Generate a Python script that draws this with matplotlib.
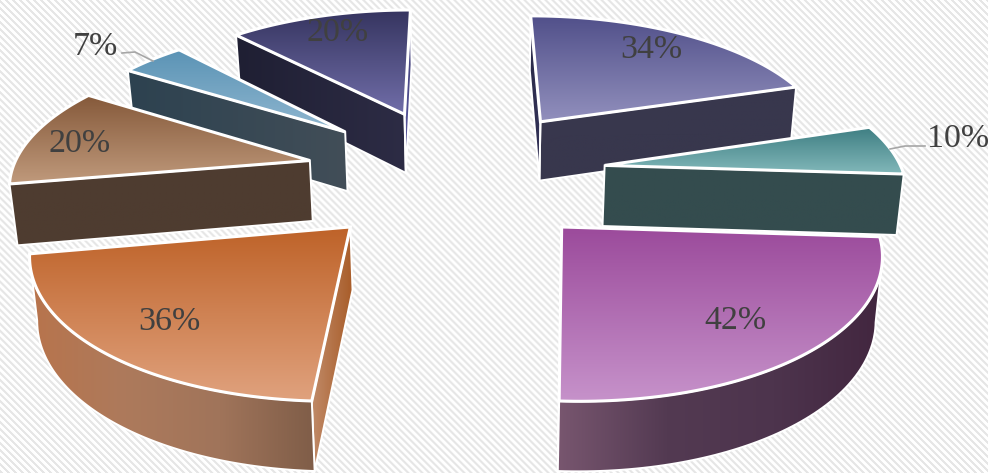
import numpy as np
import matplotlib
matplotlib.use('Agg')
import matplotlib.pyplot as plt
from matplotlib.patches import Polygon
from matplotlib.colors import LinearSegmentedColormap

# slices clockwise from 12 o'clock
labels = ['34%', '10%', '42%', '36%', '20%', '7%', '20%']
values = [34, 10, 42, 36, 20, 7, 20]

# top face gradient (top of slice -> bottom of slice)
top_colors = [('#51508a', '#9290bd'), ('#3e7e82', '#82b8ba'), ('#9b4a9b', '#c692ca'),
              ('#be6228', '#e0a27e'), ('#85593a', '#c09a7c'), ('#5a93b5', '#90b7d0'),
              ('#35345f', '#716ea9')]
# side gradients (left -> right)
arc_colors = [('#38374d', '#38374d'), ('#344c4e', '#344c4e'), ('#78566f', '#533a52', '#4d344d', '#42263f'),
              ('#b8744c', '#ad7a5c', '#a0745a', '#7f5d48'), ('#4e3c30', '#4e3c30'), ('#2d4250', '#424e58'),
              ('#2a2a48', '#2d2c45')]
cut_start_colors = [('#2a2a48', '#34335a'), ('#344c4e', '#344c4e'), ('#78566f', '#78566f'),
                    ('#c08a68', '#a85c28'), ('#4e3c30', '#4e3c30'), ('#2d4250', '#424e58'),
                    ('#1f1f33', '#2d2c45')]
cut_end_colors = [('#38374d', '#38374d'), ('#344c4e', '#344c4e'), ('#3f2340', '#3f2340'),
                  ('#b8744c', '#b8744c'), ('#4e3c30', '#4e3c30'), ('#2d4250', '#424e58'),
                  ('#5a58a0', '#3c3a70')]

label_xy = [(651, 50), (958, 139), (735, 321), (169, 322), (80, 144), (95, 47), (338, 33)]

# layout of the projected pie, in pixels
cx, cy = 456, 173.5
rx, ry = 151, 67.7
radius = 1.975
persp = 0.07

fig = plt.figure(figsize=(9.88, 4.73), dpi=100)
ax = fig.add_axes([0, 0, 1, 1])
ax.set_xlim(0, 988)
ax.set_ylim(473, 0)
ax.axis('off')

# striped background
yy, xx = np.mgrid[0:473, 0:988]
stripes = ((xx - yy) % 7 < 3.5).astype(float)
bg = LinearSegmentedColormap.from_list('bg', ['#e6e6e6', '#ffffff'])
ax.imshow(stripes, cmap=bg, extent=(0, 988, 473, 0), aspect='auto', zorder=0, interpolation='bilinear')


def project(u, v):
    w = 1 - persp * v
    return cx + rx * u / w, cy + ry * v / w


def drop(x, y):
    # bottom edge of the slice for a point on the top face
    return x - 0.017 * (x - 480), y + 54 + 0.04 * y


def paint(pts, colors, vertical, z, lw=1.4):
    pts = np.array(pts)
    cmap = LinearSegmentedColormap.from_list('g', list(colors))
    x0, x1 = pts[:, 0].min(), pts[:, 0].max()
    y0, y1 = pts[:, 1].min(), pts[:, 1].max()
    grad = np.linspace(0, 1, 256)
    grad = grad[:, None] if vertical else grad[None, :]
    im = ax.imshow(grad, cmap=cmap, extent=(x0, x1, y1, y0), origin='upper', aspect='auto', zorder=z)
    poly = Polygon(pts, closed=True, fc='none', ec='white', lw=lw, zorder=z + 0.01, joinstyle='miter')
    ax.add_patch(poly)
    im.set_clip_path(poly)


def cross(a, b):
    return a[0] * b[1] - a[1] * b[0]


angles = np.cumsum([0] + values) / sum(values) * 2 * np.pi
mids = (angles[:-1] + angles[1:]) / 2
order = np.argsort(-np.cos(mids))  # back slices first

for n, i in enumerate(order):
    z = 2 + n
    a0, a1, m = angles[i], angles[i + 1], mids[i]
    ex, ey = np.sin(m), -np.cos(m)
    th = np.linspace(a0, a1, 80)
    x, y = project(radius * np.sin(th) + ex, -radius * np.cos(th) + ey)
    tip_x, tip_y = project(ex, ey)
    bx, by = drop(x, y)
    btx, bty = drop(tip_x, tip_y)
    down = (btx - tip_x, bty - tip_y)

    # a cut face shows when the slice lies on the other side of it from the drop
    d0 = (x[0] - tip_x, y[0] - tip_y)
    d1 = (x[-1] - tip_x, y[-1] - tip_y)
    if cross(d0, down) * cross(d0, d1) < 0:
        paint([(tip_x, tip_y), (x[0], y[0]), (bx[0], by[0]), (btx, bty)],
              cut_start_colors[i], False, z)
    if cross(d1, down) * cross(d1, d0) < 0:
        paint([(tip_x, tip_y), (x[-1], y[-1]), (bx[-1], by[-1]), (btx, bty)],
              cut_end_colors[i], False, z)

    # outer rim, front part only
    front = np.diff(x) < 0
    if front.any():
        idx = np.where(front)[0]
        s, e = idx[0], idx[-1] + 2
        rim = list(zip(x[s:e], y[s:e])) + list(zip(bx[s:e][::-1], by[s:e][::-1]))
        paint(rim, arc_colors[i], False, z + 0.1)

    # top face
    top = [(tip_x, tip_y)] + list(zip(x, y))
    paint(top, top_colors[i], True, z + 0.2, lw=2.2)

for t, (lx, ly) in zip(labels, label_xy):
    ax.text(lx, ly, t, ha='center', va='center', fontsize=24.5, family='Liberation Serif',
            color='#404040', zorder=50)

# leader lines
ax.plot([122, 135, 153], [53, 52, 61], color='#a6a6a6', lw=1.2, zorder=40)
ax.plot([925, 905, 890], [146, 146, 149], color='#a6a6a6', lw=1.2, zorder=40)

fig.savefig('out.png', dpi=100)
